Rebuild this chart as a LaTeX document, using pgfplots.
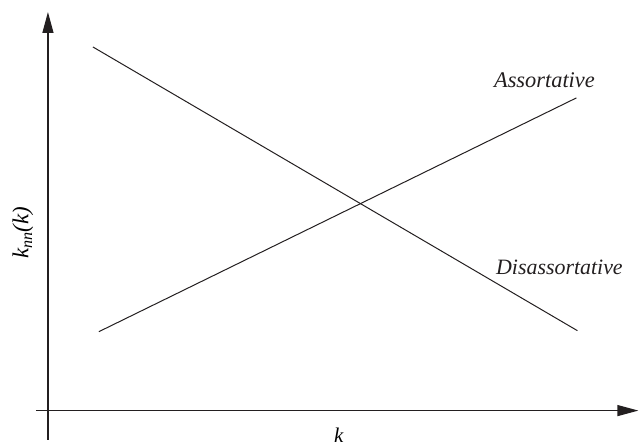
\documentclass[border=0pt]{standalone}
\usepackage{fontspec}
\setmainfont{Liberation Serif}
\usepackage{pgfplots}
\pgfplotsset{compat=1.18}
\usetikzlibrary{arrows.meta}
\definecolor{ink}{HTML}{231F20}
\begin{document}
\begin{tikzpicture}
\begin{axis}[
  scale only axis,
  x=1bp, y=1bp,
  xmin=-12, xmax=591,
  ymin=-29, ymax=399,
  axis lines=middle,
  axis line style={ink, line width=1.3bp, -{Triangle[length=21bp,width=11bp]}},
  xtick=\empty, ytick=\empty,
  clip=false,
  xlabel={\itshape k},
  ylabel={\itshape k\textsubscript{nn}(k)},
  x label style={at={(axis description cs:0.5025,0.0093)}, anchor=center, font=\fontsize{21}{24}\selectfont},
  y label style={at={(axis description cs:-0.0216,0.4836)}, anchor=center, rotate=90, font=\fontsize{23}{26}\selectfont},
]
\addplot[ink, line width=1bp] coordinates {(45,364) (530,80)};
\addplot[ink, line width=1bp] coordinates {(51,79) (529,313)};
\node[font=\fontsize{22.5}{26}\selectfont\itshape, text=ink] at (axis cs:497,331) {Assortative};
\node[font=\fontsize{22}{26}\selectfont\itshape, text=ink] at (axis cs:512,143) {Disassortative};
\path[draw=none] (axis cs:-48,-35) rectangle (axis cs:591,411);
\end{axis}
\end{tikzpicture}
\end{document}
